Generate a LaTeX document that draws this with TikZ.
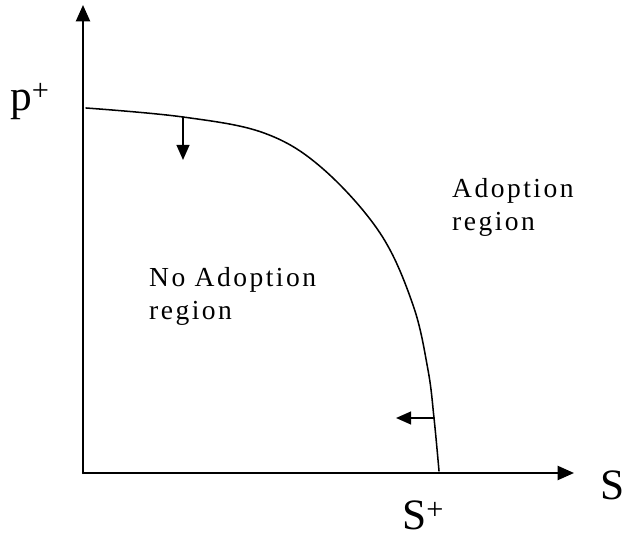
\documentclass[tikz,border=0pt]{standalone}
\usepackage{fontspec}
\setmainfont{Liberation Serif}
\newfontfamily\regionfont[LetterSpace=9]{Liberation Serif}
\usetikzlibrary{arrows.meta}

\begin{document}
\begin{tikzpicture}[x=0.03cm,y=0.03cm,line cap=round,line join=round,
    axis/.style={line width=1.8pt,-{Triangle[length=14pt,width=12pt]}},
    shift arrow/.style={line width=1.7pt,-{Triangle[length=13pt,width=11pt]}},
    axis label/.style={anchor=base west,inner sep=0pt,font=\fontsize{37}{40}\selectfont},
    region label/.style={anchor=base west,inner sep=0pt,align=left,
      font=\regionfont\fontsize{23.5}{29}\selectfont}]
  \useasboundingbox (0,0) rectangle (624,540);

  % axes
  \coordinate (O) at (83,67);
  \coordinate (ytip) at (83,535);
  \coordinate (xtip) at (574,67);
  \draw[axis] (O)--(ytip);
  \draw[axis] (O)--(xtip);

  \node[axis label] (plab) at (10,429) {p\textsuperscript{+}};
  \node[axis label] (slab) at (600,40) {S};
  \node[axis label] (splab) at (402,10) {S\textsuperscript{+}};

  % boundary curve between the two regions
  \coordinate (c0) at (86,432);
  \coordinate (cdown) at (183,423);
  \coordinate (cleft) at (434,122);
  \coordinate (c1) at (439,69);
  \draw[line width=1.3pt] plot[smooth,tension=0.6] coordinates {
    (c0) (cdown) (264,407) (322,372) (380,307) (413,235) (428,170) (cleft) (c1)};

  % direction of shift
  \coordinate (downend) at (183,380);
  \coordinate (leftend) at (396,122);
  \draw[shift arrow] (cdown)--(downend);
  \draw[shift arrow] (cleft)--(leftend);

  \node[region label] (adopt) at (452,309) {Adoption\\region};
  \node[region label] (noadopt) at (149,220) {No Adoption\\region};
\end{tikzpicture}
\end{document}
